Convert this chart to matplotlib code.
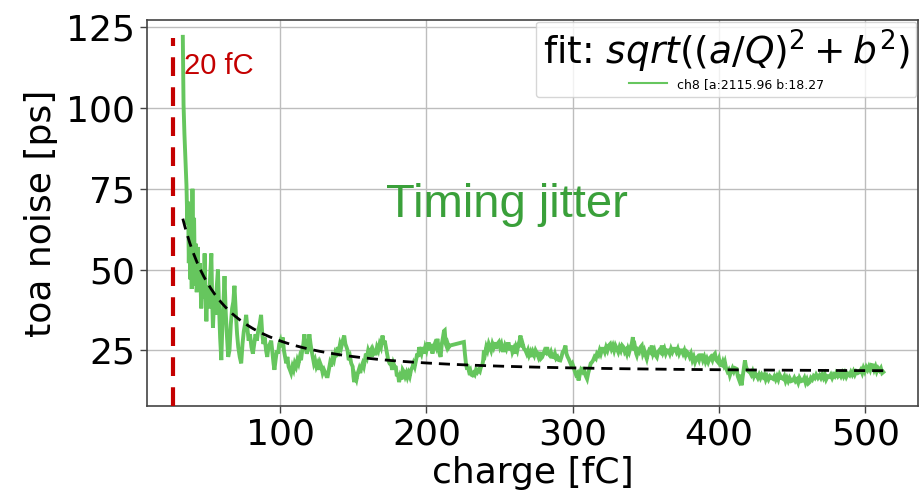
import matplotlib
matplotlib.use("Agg")
import matplotlib.pyplot as plt
import numpy as np

# ---- data ----
charge_fc = [
    33.5, 34.0, 34.6, 35.3, 36.0, 36.6, 37.1, 37.6, 38.1, 38.6, 39.1, 39.6, 40.1, 40.6, 41.2, 41.8, 42.4, 43.0, 43.7, 44.4,
    45.2, 46.1, 46.9, 47.6, 48.4, 49.0, 49.6, 50.4, 51.2, 52.1, 53.0, 53.6, 54.1, 55.0, 55.8, 56.6, 57.5, 58.3, 59.0, 59.8,
    60.7, 61.4, 62.0, 62.8, 63.6, 64.5, 65.4, 66.3, 67.2, 68.0, 68.8, 69.8, 70.6, 71.4, 72.4, 73.4, 74.3, 75.2, 76.0, 76.8,
    77.6, 78.5, 79.4, 80.4, 81.4, 82.3, 83.2, 84.1, 85.0, 86.0, 87.0, 87.8, 88.6, 89.5, 90.4, 91.2, 92.0, 93.0, 93.9, 94.8,
    95.5, 96.1, 96.9, 97.8, 98.6, 99.4, 100.2, 101.0, 101.8, 102.6, 103.4, 104.2, 105.0, 105.8, 106.7, 107.5, 108.4, 109.2, 110.0, 110.9,
    111.8, 112.6, 113.5, 114.3, 115.1, 115.9, 116.6, 117.4, 118.2, 118.9, 119.5, 120.0, 120.8, 121.5, 122.3, 123.1, 123.9, 124.8, 125.7, 126.6,
    127.4, 128.2, 129.1, 130.0, 130.9, 131.7, 132.5, 133.3, 134.1, 134.9, 135.9, 136.8, 137.6, 138.5, 139.3, 140.2, 141.0, 141.8, 142.8, 143.8,
    144.6, 145.4, 146.1, 146.9, 147.8, 148.6, 149.6, 150.1, 150.6, 151.4, 152.2, 153.1, 154.0, 154.8, 155.6, 156.4, 157.2, 158.0, 158.6, 159.4,
    160.2, 161.0, 162.0, 162.8, 163.6, 164.4, 165.4, 166.2, 167.1, 168.0, 168.9, 170.0, 170.8, 171.5, 172.3, 173.1, 173.9, 174.8, 175.7, 176.6,
    177.4, 178.2, 179.1, 179.8, 180.5, 181.3, 182.1, 183.0, 183.8, 184.7, 185.5, 186.3, 187.0, 187.8, 188.6, 189.5, 190.4, 191.2, 192.0, 192.9,
    193.7, 194.4, 195.0, 195.8, 196.6, 197.5, 198.4, 199.2, 200.0, 200.9, 201.8, 202.6, 203.4, 204.1, 204.9, 205.7, 206.6, 207.5, 208.3, 209.0,
    209.7, 210.5, 211.3, 212.0, 212.5, 213.2, 214.0, 214.6, 215.3, 216.0, 225.6, 226.3, 227.0, 227.5, 228.3, 229.1, 229.9, 230.6, 231.4, 232.2,
    233.0, 233.9, 234.8, 235.6, 236.5, 237.3, 238.2, 238.8, 239.3, 240.1, 240.9, 241.7, 242.6, 243.4, 244.2, 245.1, 245.9, 246.8, 247.6, 248.5,
    249.5, 250.3, 251.2, 252.1, 252.9, 253.7, 254.6, 255.5, 256.3, 257.1, 258.0, 258.8, 259.7, 260.5, 261.3, 262.1, 263.0, 263.7, 264.3, 265.0,
    265.8, 266.7, 267.7, 268.6, 269.4, 270.2, 271.1, 272.0, 272.8, 273.7, 274.6, 275.7, 276.5, 277.4, 278.3, 279.1, 280.0, 280.8, 281.6, 282.5,
    283.3, 284.2, 285.1, 286.0, 287.0, 287.8, 288.7, 289.6, 290.5, 291.5, 292.3, 293.1, 294.0, 295.0, 295.7, 296.5, 297.2, 298.0, 298.9, 299.7,
    300.6, 301.4, 302.2, 303.1, 304.0, 304.8, 305.7, 306.5, 307.4, 308.2, 309.0, 309.8, 310.6, 311.5, 312.3, 313.2, 314.0, 314.9, 315.8, 316.6,
    317.5, 318.4, 319.2, 320.1, 321.0, 321.9, 322.8, 323.7, 324.6, 325.6, 326.5, 327.4, 328.3, 329.2, 330.2, 331.1, 332.0, 332.9, 333.8, 334.7,
    335.6, 336.3, 337.0, 337.8, 338.6, 339.5, 340.3, 341.1, 341.8, 342.6, 343.4, 343.8, 344.6, 345.4, 346.3, 347.2, 348.0, 348.9, 349.8, 350.6,
    351.4, 352.2, 353.1, 354.0, 354.9, 355.8, 356.6, 357.5, 358.3, 359.1, 360.0, 360.9, 361.8, 362.7, 363.6, 364.5, 365.4, 366.3, 367.2, 368.1,
    369.0, 370.0, 370.9, 371.8, 372.7, 373.6, 374.5, 375.4, 376.3, 377.2, 378.1, 379.0, 379.9, 380.8, 381.8, 382.7, 383.6, 384.5, 385.4, 386.3,
    387.2, 388.1, 389.0, 389.9, 390.8, 391.7, 392.6, 393.5, 394.4, 395.4, 396.3, 397.2, 398.1, 399.0, 399.9, 400.8, 401.8, 402.6, 403.3, 404.0,
    404.8, 405.7, 406.5, 407.4, 408.3, 409.2, 410.1, 411.0, 412.0, 412.8, 413.6, 414.3, 415.0, 415.4, 416.2, 417.0, 417.7, 418.4, 419.2, 420.1,
    421.1, 422.0, 422.9, 423.8, 424.7, 425.6, 426.5, 427.4, 428.3, 429.2, 430.1, 431.0, 431.9, 432.8, 433.8, 434.8, 435.8, 436.9, 437.8, 438.7,
    439.6, 440.5, 441.4, 442.5, 443.7, 444.6, 445.5, 446.4, 447.3, 448.2, 449.3, 450.5, 451.4, 452.3, 453.2, 454.1, 455.0, 456.2, 457.4, 458.3,
    459.2, 460.1, 461.0, 461.9, 462.8, 463.7, 464.6, 465.5, 466.4, 467.6, 468.7, 469.6, 470.5, 471.4, 472.3, 473.2, 474.3, 475.5, 476.4, 477.3,
    478.2, 479.1, 480.0, 481.2, 482.4, 483.3, 484.2, 485.1, 486.0, 487.0, 488.1, 489.2, 490.1, 491.0, 491.9, 492.8, 493.8, 494.9, 496.0, 496.9,
    497.8, 498.7, 499.6, 500.6, 501.5, 502.4, 503.3, 504.2, 505.1, 506.0, 506.9, 507.8, 508.7, 509.7, 510.6, 511.5, 512.3,
]
toa_noise_ps = [
    122, 101, 92, 84, 76, 64, 71, 52, 66, 47, 62, 44, 75, 50, 66, 45, 58, 43, 57, 46,
    52, 38, 50, 41, 55, 42, 34, 45, 38, 47, 55, 40, 32, 42, 36, 44, 50, 38, 29, 22,
    35, 41, 48, 37, 30, 23, 25, 33, 38, 40, 45, 36, 30, 26, 23, 21, 27, 31, 33, 36,
    32, 28, 30, 26, 24, 27, 30, 28, 31, 33, 36, 30, 27, 29, 25, 23, 26, 27, 28, 24,
    21, 19, 22, 25, 24, 27, 28, 26, 29, 25, 23, 21, 23, 20, 19, 18, 20, 19, 21, 20,
    22, 21, 23, 22, 25, 27, 30, 26, 24, 25, 28, 30, 27, 25, 23, 21, 22, 20, 21, 19,
    21, 20, 18, 19, 18, 17, 17, 19, 21, 20, 23, 22, 24, 23, 26, 25, 27, 26, 28, 29.6,
    27, 26, 25, 22, 23, 21, 20, 17, 15.2, 17, 16, 18, 19.3, 18, 20, 21, 20, 22, 24, 23,
    25, 24, 25, 23, 25, 24, 24, 26, 25, 27, 26, 29.6, 27, 28, 26, 24, 22, 21, 21, 19,
    21, 20, 19.8, 17, 18, 15.2, 17, 16, 19, 18.3, 17, 18, 16.8, 18, 17, 19, 19.8, 21, 20, 22,
    24, 23, 26, 25, 24, 26, 24, 26, 25, 27, 27, 25, 27, 24, 26, 27, 26, 28.6, 26, 24,
    23, 27, 29, 31, 31.2, 27, 26, 27, 26, 26.5, 27.6, 24, 21, 19.8, 20, 18.5, 19, 17.5, 17.3, 18,
    17.5, 19, 18.3, 19, 18.5, 20, 20.4, 22, 25, 24, 26, 25, 27, 26, 25, 27, 26, 27.5, 25.5, 27,
    27.6, 26, 27, 25, 25, 26.5, 25.5, 27, 27, 25, 26.5, 24.5, 25.5, 24, 26, 25, 27, 28, 29.6, 26,
    27, 25.5, 25, 24, 25, 23.5, 24.5, 23, 24.5, 23.5, 25, 24, 23, 24.5, 22.5, 22.9, 24, 25, 24.5, 26,
    24, 23.5, 24.5, 23, 22.9, 24, 22.5, 23, 22, 21.9, 23, 24.5, 25, 26.5, 24, 23, 22.4, 21.5, 20.5, 21,
    19.8, 18.5, 17.5, 18, 15.7, 17.5, 19, 18.5, 19.8, 18, 17, 16.2, 18, 19.5, 21, 21.4, 22, 23, 22.5, 24,
    23.5, 25, 24, 25.5, 25.5, 24.5, 26, 25, 26.5, 27, 25.5, 26.5, 25, 26.5, 25.5, 24.5, 26, 25, 26.5, 26,
    24.5, 25, 24, 25.5, 24.5, 26, 27, 29.1, 25, 26, 24, 23.5, 25, 24.5, 26, 26.5, 24, 25, 23.5, 22.4,
    24, 25, 24.5, 26.5, 24, 25, 23.5, 22.9, 24.5, 25, 24.5, 26.5, 24.5, 25.5, 24, 25, 25, 24, 25.5, 24.5,
    25.5, 25.5, 24.5, 25.5, 24, 25, 25, 24, 25, 23.5, 24.5, 24, 23, 24, 22, 23, 21.4, 22.5, 23, 22,
    23.5, 23.5, 22, 23, 21.5, 22.5, 21.4, 22.5, 23, 22, 23.5, 24, 22, 21.5, 22.5, 20.5, 20.4, 21.5, 20.5, 21.4,
    19.5, 18.5, 19, 17.3, 18.5, 19.5, 18.5, 19.5, 19.3, 17, 16, 17.5, 15.5, 14.2, 17, 19.5, 21.9, 20, 19, 18.5,
    18.3, 17.5, 18.5, 17, 18, 17.3, 16.5, 17.5, 16.5, 17.5, 16.8, 17.5, 16, 17, 16, 17, 16.5, 16.2, 17, 16,
    17, 16, 17.5, 16.5, 16.2, 17, 15.5, 16.5, 15.5, 16.5, 15.5, 15.7, 16.5, 15.5, 16, 15, 16.5, 15.5, 15.7, 16.5,
    15, 16, 14.8, 15.2, 16.5, 16, 17, 16.5, 17.5, 16.5, 17.3, 16.5, 17.5, 16.5, 17.5, 16, 17, 16.8, 17.5, 16.5,
    17.5, 17, 18, 17, 17.8, 17, 18, 17, 18, 16.8, 17.8, 17.3, 18.3, 17.5, 18.5, 17.5, 18.5, 18, 18.3, 19,
    18, 19.5, 18.5, 19.8, 19, 20, 19, 20.5, 20.4, 19, 20, 18.5, 19.5, 18.8, 19.5, 18, 18.3,
]

fit_a = 2115.96
fit_b = 18.27
channel = "ch8"
marker_line_fc = 27.0      # drawn position of the red dashed marker
marker_label = "20 fC"
x_ticks = [100, 200, 300, 400, 500]
y_ticks = [25, 50, 75, 100, 125]

q = np.asarray(charge_fc, dtype=float)
noise = np.asarray(toa_noise_ps, dtype=float)
q_fit = np.linspace(q.min(), q.max(), 400)
fit_curve = np.sqrt((fit_a / q_fit) ** 2 + fit_b ** 2)

fig = plt.figure(figsize=(9.22, 4.98), dpi=100)
ax = fig.add_axes([0.1594, 0.1847, 0.8363, 0.7751])

ax.grid(True, color="#bdbdbd", linewidth=1.0, zorder=0)
ax.set_axisbelow(True)

ax.plot(q, noise, color="#66c65e", linewidth=2.8, solid_joinstyle="miter",
        label=f"{channel} [a:{fit_a:.2f} b:{fit_b:.2f}", zorder=2)
ax.plot(q_fit, fit_curve, color="black", linewidth=2.0, linestyle=(0, (4, 2.5)), zorder=3)

ax.set_xlim(9, 536)
ax.set_ylim(7.8, 127.2)
ax.set_xticks(x_ticks)
ax.set_yticks(y_ticks)
ax.tick_params(labelsize=26, length=5, width=1, color="#444444")
for s in ax.spines.values():
    s.set_color("#444444")
    s.set_linewidth(1.2)

ax.set_xlabel("charge [fC]", fontsize=26, labelpad=3)
ax.set_ylabel("toa noise [ps]", fontsize=26, labelpad=6)

# red dashed marker line
ax.plot([marker_line_fc, marker_line_fc], [7.8, 121.5], color="#c40000",
        linewidth=3.0, linestyle=(0, (4.5, 2.7)), zorder=4)
ax.text(marker_line_fc + 7.5, 113.0, marker_label, color="#c40000", fontsize=21,
        family="Liberation Sans", ha="left", va="center")

ax.text(255, 70, "Timing jitter", color="#3aa03a", fontsize=34,
        family="Liberation Sans", ha="center", va="center")

leg = ax.legend(loc="upper right", title="fit: $sqrt((a/Q)^2 + b^2)$",
                title_fontsize=27, fontsize=9, frameon=True, fancybox=True,
                borderpad=0.5, handlelength=3.0, borderaxespad=0.15,
                labelspacing=0.2)
leg.get_frame().set_edgecolor("#cccccc")
leg.get_frame().set_linewidth(1.0)
for h in leg.get_lines():
    h.set_linewidth(1.5)

fig.savefig("out.png", dpi=100)
